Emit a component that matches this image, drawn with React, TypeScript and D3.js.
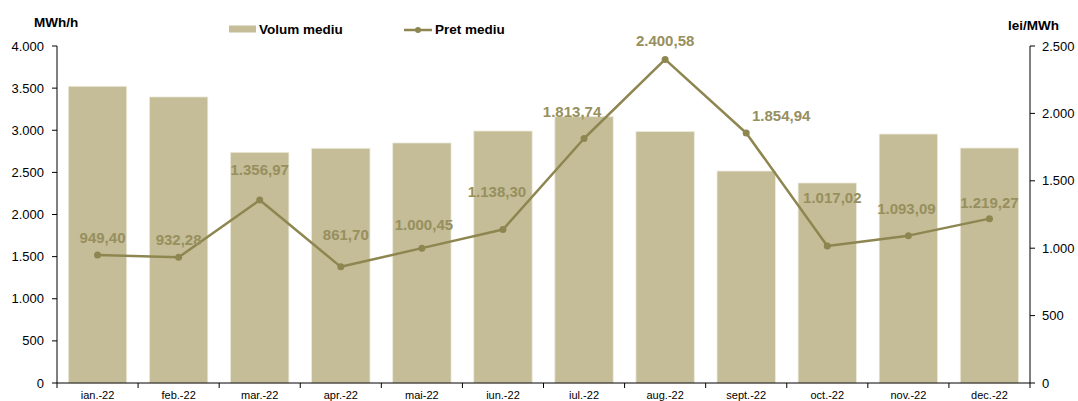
import React from "react";
import * as d3 from "d3";

const categories = ["ian.-22", "feb.-22", "mar.-22", "apr.-22", "mai-22", "iun.-22", "iul.-22", "aug.-22", "sept.-22", "oct.-22", "nov.-22", "dec.-22"];
const volume = [3522, 3395, 2738, 2786, 2849, 2991, 3161, 2985, 2516, 2374, 2955, 2789];
const price = [949.40, 932.28, 1356.97, 861.70, 1000.45, 1138.30, 1813.74, 2400.58, 1854.94, 1017.02, 1093.09, 1219.27];
const leftTicks = [0, 500, 1000, 1500, 2000, 2500, 3000, 3500, 4000];
const rightTicks = [0, 500, 1000, 1500, 2000, 2500];
// label placement offsets relative to each point [dx, dy]
const labelOffsets: [number, number][] = [[5, -12], [0, -12], [0, -25], [5, -27], [2, -18], [-6, -33], [-12, -22], [0, -13], [35, -12], [5, -43], [-2, -22], [0, -11]];

const W = 1078, H = 401;
const M = { left: 57, right: 1030, top: 46, bottom: 383 };
const BAR = "#C4BD97";
const LINE = "#8E8650";
const LABEL = "#978F5E";
const FONT = "Liberation Sans, Arial, sans-serif";

const fmt = (v: number, dec: number) => {
  const s = v.toFixed(dec);
  const [i, d] = s.split(".");
  const ii = i.replace(/\B(?=(\d{3})+(?!\d))/g, ".");
  return d ? ii + "," + d : ii;
};

export default function App() {
  const x = d3.scaleBand<string>().domain(categories).range([M.left, M.right]).paddingInner(0.28).paddingOuter(0.14);
  const yL = d3.scaleLinear().domain([0, 4000]).range([M.bottom, M.top]);
  const yR = d3.scaleLinear().domain([0, 2500]).range([M.bottom, M.top]);
  const step = (M.right - M.left) / categories.length;
  const cx = (c: string) => (x(c) as number) + x.bandwidth() / 2;
  const line = d3.line<number>().x((_, i) => cx(categories[i])).y((d) => yR(d));

  return (
    <svg width={W} height={H} style={{ position: "absolute", left: 0, top: 0, background: "#fff" }} fontFamily={FONT}>
      {/* bars */}
      {volume.map((v, i) => (
        <rect key={i} x={x(categories[i])} y={yL(v)} width={x.bandwidth()} height={yL(0) - yL(v)} fill={BAR} stroke="#EDEADB" strokeWidth={0.8} />
      ))}
      {/* axes */}
      <line x1={M.left} x2={M.left} y1={M.top} y2={M.bottom} stroke="#000" strokeWidth={1} />
      <line x1={M.right} x2={M.right} y1={M.top} y2={M.bottom} stroke="#000" strokeWidth={1} />
      <line x1={M.left} x2={M.right} y1={M.bottom} y2={M.bottom} stroke="#000" strokeWidth={1} />
      {leftTicks.map((t) => (
        <g key={"l" + t}>
          <line x1={M.left - 5} x2={M.left} y1={yL(t)} y2={yL(t)} stroke="#000" />
          <text x={44} y={yL(t) + 4.5} textAnchor="end" fontSize={13} fill="#000">{fmt(t, 0)}</text>
        </g>
      ))}
      {rightTicks.map((t) => (
        <g key={"r" + t}>
          <line x1={M.right} x2={M.right + 5} y1={yR(t)} y2={yR(t)} stroke="#000" />
          <text x={1042} y={yR(t) + 4.5} textAnchor="start" fontSize={13} fill="#000">{fmt(t, 0)}</text>
        </g>
      ))}
      {d3.range(categories.length + 1).map((i) => (
        <line key={"t" + i} x1={M.left + i * step} x2={M.left + i * step} y1={M.bottom} y2={M.bottom + 5} stroke="#000" />
      ))}
      {categories.map((c) => (
        <text key={c} x={cx(c)} y={399} textAnchor="middle" fontSize={11} fill="#000">{c}</text>
      ))}
      {/* line */}
      <path d={line(price) || ""} fill="none" stroke={LINE} strokeWidth={2.5} strokeLinejoin="round" />
      {price.map((p, i) => (
        <circle key={i} cx={cx(categories[i])} cy={yR(p)} r={3.5} fill={LINE} />
      ))}
      {price.map((p, i) => (
        <text key={"lab" + i} x={cx(categories[i]) + labelOffsets[i][0]} y={yR(p) + labelOffsets[i][1]} textAnchor="middle" fontSize={15} fontWeight="bold" fill={LABEL}>{fmt(p, 2)}</text>
      ))}
      {/* unit titles */}
      <text x={34} y={27} fontSize={13.5} fontWeight="bold" fill="#000">MWh/h</text>
      <text x={1008} y={29.5} fontSize={13.5} fontWeight="bold" fill="#000">lei/MWh</text>
      {/* legend */}
      <rect x={229} y={25.5} width={27} height={7} fill={BAR} />
      <text x={259} y={34} fontSize={13.5} fontWeight="bold" fill="#000">Volum mediu</text>
      <line x1={404} x2={432} y1={30} y2={30} stroke={LINE} strokeWidth={2.5} />
      <circle cx={418} cy={30} r={3} fill={LINE} />
      <text x={435} y={34} fontSize={13.5} fontWeight="bold" fill="#000">Pret mediu</text>
    </svg>
  );
}
